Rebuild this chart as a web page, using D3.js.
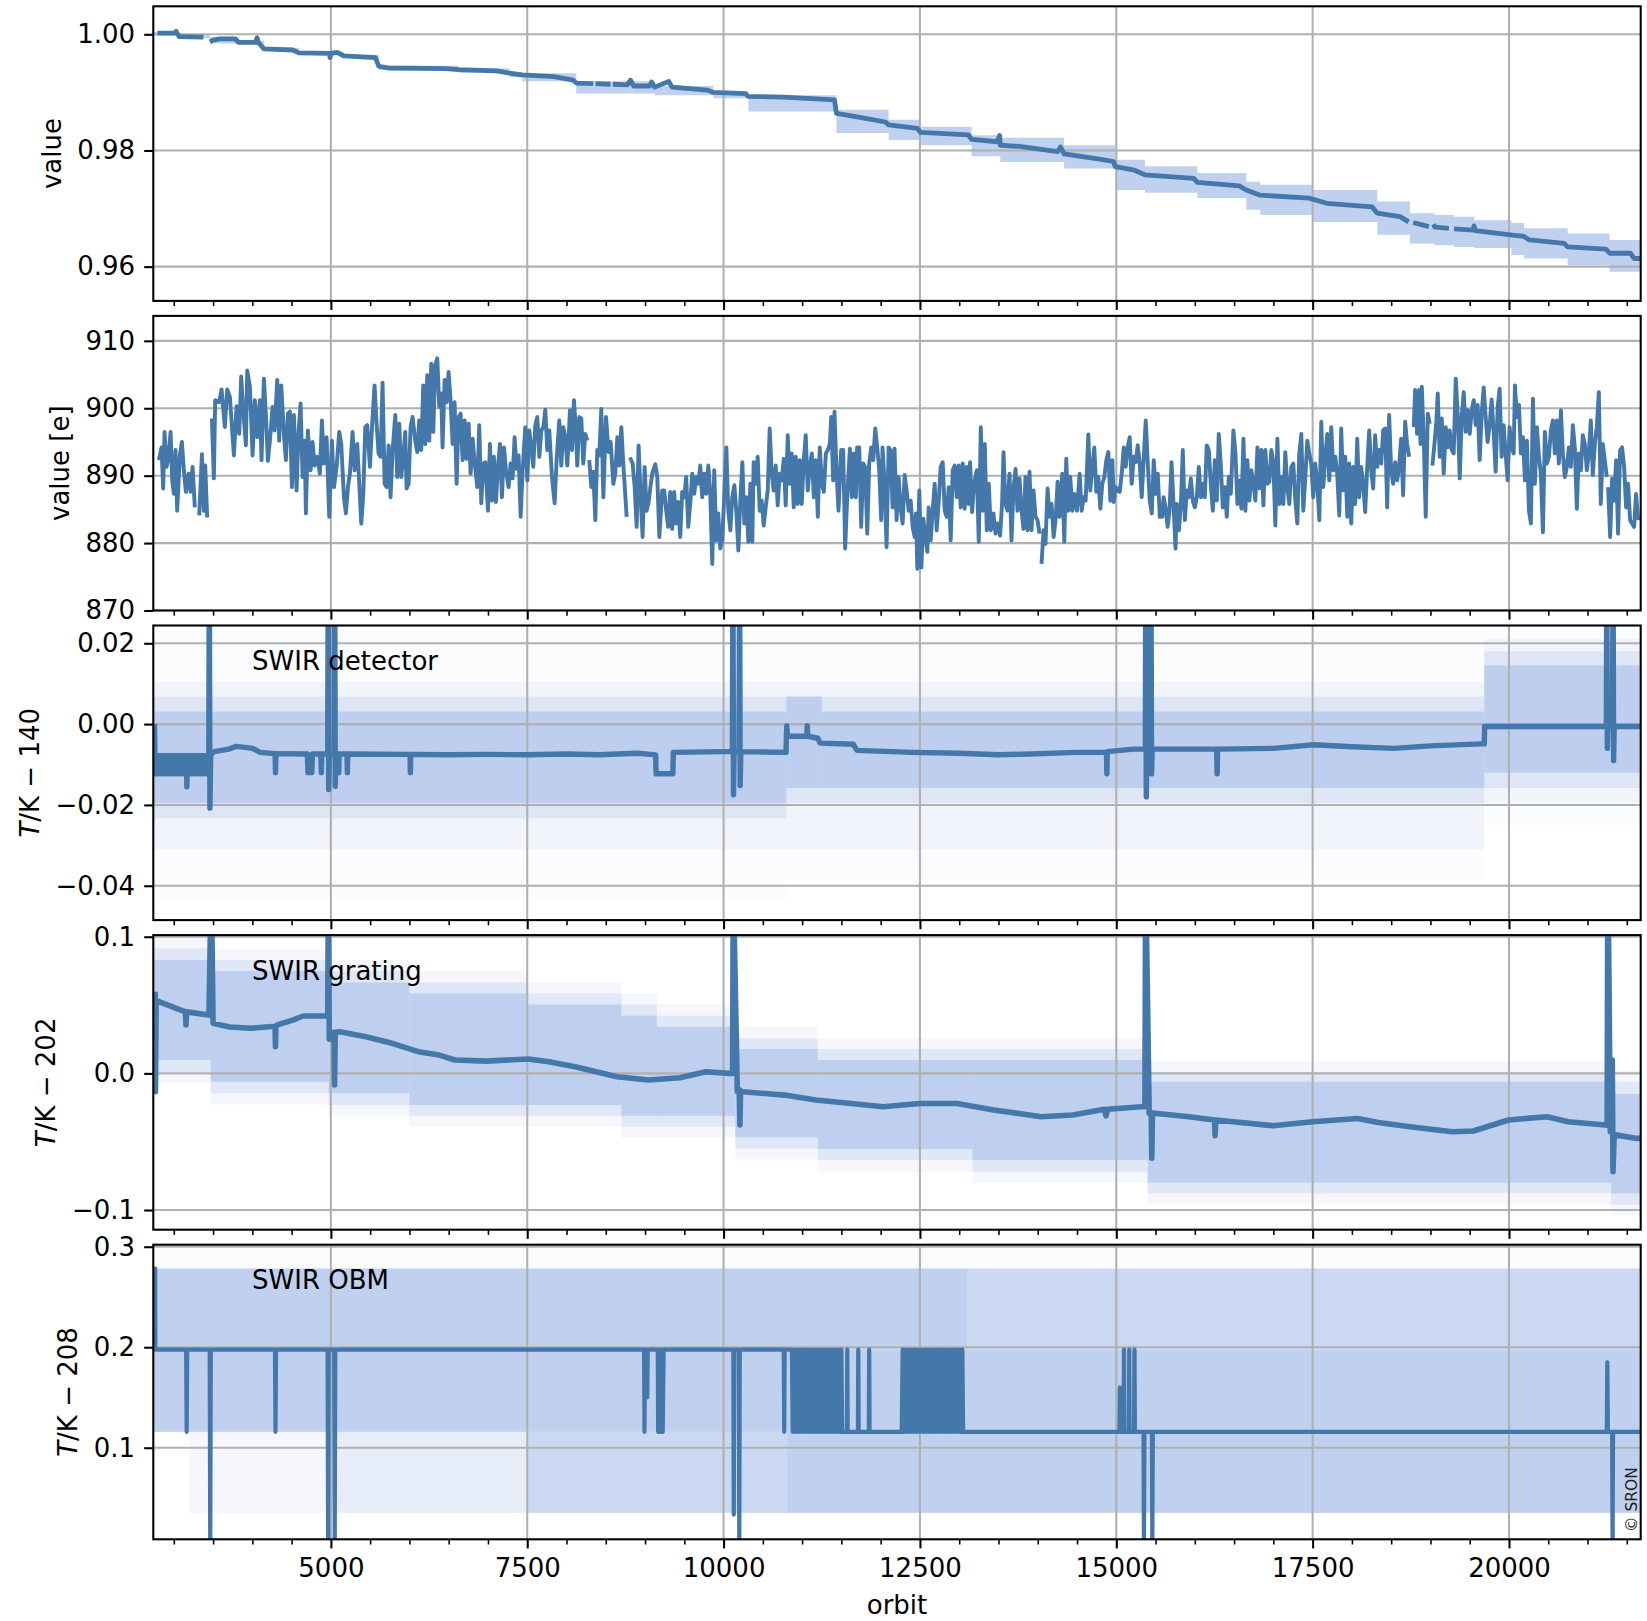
<!DOCTYPE html>
<html>
<head>
<meta charset="utf-8">
<script src="https://cdn.jsdelivr.net/npm/d3@7"></script>
<style>
  body { margin: 0; background: #fff; }
  svg { display: block; }
  text { font-family: 'DejaVu Sans', sans-serif; }
</style>
</head>
<body>
<svg id="chart"></svg>
<script>
// ---- shared x axis ----
const orbitDomain = [2739, 21677]
const xTicks = [5000, 7500, 10000, 12500, 15000, 17500, 20000]
const xMinorTicks = [3000, 3500, 4000, 4500, 5000, 5500, 6000, 6500, 7000, 7500, 8000, 8500, 9000, 9500,
  10000, 10500, 11000, 11500, 12000, 12500, 13000, 13500, 14000, 14500, 15000, 15500, 16000, 16500,
  17000, 17500, 18000, 18500, 19000, 19500, 20000, 20500, 21000, 21500]

// ---- panel 1: degradation value ----
const degTicks = [0.96, 0.98, 1.00]
const degSeries = [[2792, 1.0002], [3011, 1.0002], [3030, 1.0005], [3045, 1.0001], [3068, 0.9996], [3377, 0.9995],
  [3420, null], [3460, 0.9987], [3500, 0.9990], [3580, 0.9992], [3782, 0.9992], [3823, 0.9986], [4040, 0.9986],
  [4060, 0.9994], [4075, 0.9986], [4148, 0.9975], [4513, 0.9973], [4594, 0.9968], [4980, 0.9967], [4990, 0.9960],
  [5000, 0.9967], [5081, 0.9969], [5162, 0.9963], [5568, 0.9960], [5609, 0.9945], [5731, 0.9942], [6462, 0.9941],
  [6623, 0.9939], [7110, 0.9937], [7273, 0.9933], [7435, 0.9930], [7841, 0.9927], [8084, 0.9921], [8125, 0.9916],
  [8340, 0.9915], [8355, null], [8370, 0.9915], [8560, 0.9914], [8575, null], [8590, 0.9914], [8774, 0.9913],
  [8815, 0.9921], [8856, 0.9911], [9059, 0.9911], [9083, 0.9918], [9124, 0.9909], [9302, 0.9919], [9343, 0.9909],
  [9789, 0.9904], [9870, 0.9900], [10276, 0.9898], [10317, 0.9893], [10763, 0.9892], [11412, 0.9887],
  [11437, 0.9864], [11737, 0.9857], [12062, 0.9849], [12102, 0.9844], [12468, 0.9838], [12508, 0.9831],
  [13117, 0.9827], [13158, 0.9819], [13483, 0.9815], [13515, 0.9826], [13523, 0.9809], [13767, 0.9807],
  [14254, 0.9798], [14290, 0.9806], [14335, 0.9794], [14786, 0.9785], [14964, 0.9781], [14987, 0.9772],
  [15231, 0.9766], [15365, 0.9758], [15987, 0.9752], [16032, 0.9745], [16566, 0.9739], [16655, 0.9732],
  [16833, 0.9723], [17455, 0.9718], [17678, 0.9709], [18256, 0.9703], [18323, 0.9692], [18612, 0.9686],
  [18723, 0.9677], [18750, null], [18780, 0.9676], [18980, 0.9669], [19000, null], [19040, 0.9673], [19057, 0.9668],
  [19235, 0.9666], [19270, null], [19300, 0.9665], [19546, 0.9663], [19555, 0.9670], [19570, 0.9662],
  [19991, 0.9655], [20191, 0.9652], [20258, 0.9646], [20702, 0.9640], [20747, 0.9634], [21236, 0.9630],
  [21281, 0.9623], [21548, 0.9623], [21592, 0.9614], [21677, 0.9614]]
// [orbit where the band starts, lower, upper]
const degBand = [[2739, 0.9998, 1.0004], [3068, 0.9993, 0.9999], [3460, 0.9984, 0.9995], [3823, 0.9983, 0.9989],
  [4148, 0.9972, 0.9977], [4594, 0.9965, 0.9970], [5162, 0.9959, 0.9965], [5609, 0.9939, 0.9946],
  [6623, 0.9935, 0.9941], [7273, 0.9926, 0.9935], [7435, 0.9919, 0.9933], [8125, 0.9898, 0.9919],
  [9124, 0.9895, 0.9911], [9870, 0.9890, 0.9902], [10317, 0.9867, 0.9895], [11437, 0.9830, 0.9870],
  [12102, 0.9818, 0.9853], [12508, 0.9809, 0.9841], [13158, 0.9790, 0.9826], [13523, 0.9780, 0.9822],
  [14335, 0.9769, 0.9809], [14987, 0.9732, 0.9784], [15365, 0.9727, 0.9773], [16032, 0.9718, 0.9761],
  [16655, 0.9698, 0.9746], [16833, 0.9689, 0.9741], [17500, 0.9677, 0.9732], [18323, 0.9655, 0.9712],
  [18740, 0.9640, 0.9692], [19050, 0.9637, 0.9689], [19300, 0.9634, 0.9686], [19560, 0.9632, 0.9680],
  [20030, 0.9620, 0.9675], [20191, 0.9614, 0.9666], [20747, 0.9603, 0.9657], [21281, 0.9591, 0.9646],
  [21677, 0.9591, 0.9646]]

// ---- panel 2: dark signal [e] ----
const darkTicks = [870, 880, 890, 900, 910]
const darkSeries = [[2810, 892.3], [2844, 894.2], [2865, 888.1], [2882, 896.5], [2908, 891.3], [2933, 892.8], [2959, 896.5],
  [2980, 889.3], [3001, 887.3], [3022, 893.8], [3043, 884.8], [3077, 893.0], [3103, 895.0], [3128, 890.8], [3154, 887.6],
  [3188, 890.3], [3213, 887.6], [3239, 891.3], [3268, 885.3], [3295, null], [3324, 884.1], [3358, 893.2], [3383, 884.8],
  [3400, 891.5], [3425, 883.8], [3455, null], [3485, 898.5], [3510, 889.6], [3527, 901.2], [3578, 900.9], [3608, 902.8],
  [3650, 897.2], [3680, 902.8], [3714, 901.7], [3765, 893.0], [3799, 900.3], [3833, 896.2], [3858, 904.7], [3884, 899.7],
  [3918, 894.5], [3935, 905.6], [3969, 903.2], [4003, 893.0], [4032, 901.2], [4062, 895.7], [4096, 901.2], [4117, 892.3],
  [4147, 904.4], [4172, 899.2], [4198, 892.2], [4224, 895.2], [4257, 900.2], [4283, 896.7], [4317, 904.2], [4342, 895.2],
  [4368, 903.4], [4402, 896.2], [4427, 892.3], [4453, 899.2], [4478, 899.5], [4504, 888.3], [4529, 899.0], [4563, 887.8],
  [4589, 896.5], [4614, 900.7], [4640, 889.8], [4665, 895.2], [4682, 884.4], [4707, 896.7], [4741, 890.8], [4767, 895.0],
  [4792, 891.5], [4826, 892.8], [4860, 890.3], [4886, 898.2], [4911, 891.8], [4945, 895.7], [4979, 883.9], [5013, 895.2],
  [5039, 888.3], [5073, 891.3], [5106, 896.5], [5132, 894.7], [5166, 886.8], [5191, 884.4], [5217, 888.3], [5242, 890.3],
  [5276, 896.5], [5302, 890.8], [5336, 894.7], [5361, 888.8], [5387, 882.9], [5412, 887.1], [5438, 897.2], [5463, 897.5],
  [5497, 891.3], [5531, 898.7], [5556, 903.4], [5582, 897.7], [5607, 893.3], [5633, 892.8], [5658, 903.8], [5684, 888.8],
  [5709, 888.3], [5735, 894.5], [5760, 886.8], [5786, 893.8], [5820, 899.0], [5845, 889.8], [5871, 897.7], [5896, 889.8],
  [5922, 892.8], [5947, 896.5], [5964, 888.1], [5990, 888.8], [6015, 897.2], [6040, 898.7], [6074, 895.2], [6100, 893.5],
  [6125, 898.2], [6151, 893.8], [6176, 903.4], [6202, 894.7], [6227, 904.9], [6253, 895.2], [6278, 906.6], [6304, 896.5],
  [6329, 906.4], [6355, 907.4], [6380, 900.2], [6405, 902.2], [6422, 894.2], [6448, 904.2], [6473, 900.9], [6499, 905.4],
  [6524, 901.2], [6550, 894.7], [6575, 900.9], [6601, 888.8], [6626, 898.7], [6652, 899.2], [6677, 892.3], [6703, 898.2],
  [6728, 892.5], [6754, 897.7], [6779, 890.3], [6805, 895.5], [6830, 892.0], [6864, 888.3], [6889, 897.5], [6915, 885.9],
  [6940, 891.8], [6966, 892.0], [7000, 884.8], [7025, 894.7], [7051, 886.3], [7076, 892.8], [7102, 886.1], [7127, 891.3],
  [7153, 894.7], [7178, 886.8], [7204, 894.2], [7229, 890.8], [7263, 888.3], [7288, 891.8], [7314, 889.6], [7339, 895.7],
  [7365, 891.0], [7390, 893.0], [7416, 883.9], [7441, 890.8], [7475, 897.2], [7501, 889.3], [7526, 896.7], [7552, 894.2],
  [7577, 891.3], [7603, 897.5], [7628, 898.7], [7654, 892.8], [7679, 896.7], [7705, 897.2], [7730, 899.8], [7755, 893.8],
  [7781, 896.7], [7815, 889.8], [7849, 885.9], [7874, 892.3], [7908, 898.2], [7934, 891.5], [7959, 897.2], [7985, 895.7],
  [8010, 891.5], [8044, 899.7], [8070, 893.8], [8095, 901.2], [8120, 896.7], [8137, 891.5], [8163, 898.7], [8188, 898.5],
  [8214, 891.8], [8239, 896.2], [8265, 895.2], [8278, null], [8290, 892.3], [8316, 888.3], [8341, 890.6], [8367, 883.4],
  [8392, 893.8], [8418, 893.0], [8443, 899.9], [8469, 886.8], [8503, 898.7], [8536, 893.5], [8562, 895.0], [8596, 888.8],
  [8621, 890.3], [8647, 895.7], [8672, 891.5], [8698, 897.2], [8723, 891.8], [8766, 883.9], [8788, null], [8808, 892.7],
  [8842, 891.8], [8868, 888.3], [8893, 882.4], [8918, 894.5], [8944, 886.8], [8969, 880.9], [8995, 891.3], [9020, 884.8],
  [9046, 886.1], [9071, 888.6], [9097, 890.6], [9131, 891.7], [9156, 889.8], [9182, 880.9],
  [9218, 887.8], [9244, 887.8], [9269, 884.8], [9295, 882.4], [9320, 887.6], [9346, 882.1], [9371, 887.6], [9397, 882.9],
  [9422, 886.1], [9448, 880.9], [9473, 887.6], [9499, 886.8], [9524, 889.8], [9550, 882.4], [9575, 885.8], [9601, 890.3],
  [9626, 887.3], [9652, 889.8], [9677, 888.8], [9703, 891.5], [9728, 886.8], [9754, 890.3], [9779, 887.3], [9805, 891.5],
  [9830, 887.6], [9856, 876.9], [9881, 890.8], [9907, 880.4], [9932, 884.4], [9958, 879.2], [9983, 880.4], [10009, 887.1],
  [10035, 894.2], [10060, 884.8], [10086, 881.9], [10111, 886.8], [10137, 888.6], [10162, 884.8], [10188, 878.9],
  [10213, 886.3], [10239, 892.0], [10264, 882.9], [10290, 886.8], [10315, 880.2], [10341, 888.8], [10366, 880.2],
  [10383, 892.0], [10409, 888.8], [10434, 892.8], [10460, 884.8], [10485, 886.3], [10511, 882.6], [10536, 885.3],
  [10562, 887.8], [10587, 897.0], [10613, 890.3], [10638, 887.8], [10664, 891.5], [10689, 885.6], [10715, 890.3],
  [10740, 889.3], [10766, 892.5], [10791, 885.6], [10817, 896.0], [10842, 888.8], [10868, 893.3], [10893, 885.3],
  [10919, 892.8], [10944, 885.8], [10970, 892.3], [10995, 885.8], [11021, 892.3], [11046, 896.0], [11072, 887.8],
  [11097, 891.3], [11123, 893.3], [11149, 886.8], [11174, 892.3], [11200, 883.9], [11225, 894.2], [11251, 888.8],
  [11276, 887.6], [11302, 893.3], [11327, 893.8], [11353, 894.7], [11370, 898.7], [11395, 889.3], [11412, 899.5],
  [11438, 890.8], [11463, 884.8], [11497, 893.8], [11523, 893.8], [11548, 879.2], [11574, 886.8], [11608, 894.0],
  [11633, 886.8], [11659, 893.3], [11684, 886.8], [11701, 894.2], [11727, 894.2], [11752, 882.4], [11778, 891.8],
  [11803, 891.3], [11829, 881.4], [11854, 891.8], [11880, 894.2], [11905, 892.3], [11931, 897.0], [11956, 894.2],
  [11982, 890.8], [12007, 883.4], [12024, 894.2], [12050, 888.8], [12075, 879.4], [12101, 894.2], [12126, 893.8],
  [12152, 885.3], [12177, 894.0], [12203, 883.4], [12229, 889.8], [12254, 885.3], [12280, 882.9], [12305, 890.1],
  [12331, 887.8], [12356, 884.8], [12382, 886.3], [12407, 882.4], [12433, 880.9], [12450, 884.4], [12467, 876.2],
  [12492, 887.8], [12518, 876.4], [12543, 883.6], [12569, 880.9], [12594, 878.7], [12611, 885.3], [12637, 880.4],
  [12662, 884.8], [12688, 888.8], [12713, 881.9], [12739, 886.1], [12764, 891.3], [12790, 892.0], [12815, 884.8],
  [12841, 883.9], [12866, 888.3], [12892, 880.4], [12917, 890.8], [12943, 891.5], [12968, 886.8], [12994, 891.5],
  [13019, 885.3], [13045, 891.8], [13070, 885.1], [13096, 891.3], [13121, 885.8], [13138, 892.0], [13164, 884.6],
  [13189, 888.8], [13224, 890.8], [13249, 880.2], [13275, 897.2], [13300, 884.8], [13326, 894.7], [13351, 881.9],
  [13377, 888.8], [13402, 881.9], [13436, 884.4], [13462, 881.4], [13487, 882.9], [13521, 881.1], [13547, 886.1],
  [13564, 893.5], [13589, 885.8], [13615, 884.8], [13640, 890.3], [13666, 880.4], [13691, 888.1], [13717, 891.0],
  [13742, 884.8], [13768, 889.6], [13793, 884.8], [13819, 882.1], [13844, 889.8], [13870, 881.9], [13895, 890.6],
  [13921, 881.9], [13946, 887.8], [13972, 883.9], [13997, 883.4], [14023, 881.4], [14035, null], [14048, 876.9],
  [14074, 881.9], [14099, 879.9], [14125, 888.1], [14150, 883.9], [14176, 885.8], [14202, 880.9], [14227, 883.4],
  [14253, 889.1], [14278, 883.9], [14312, 890.3], [14338, 880.2], [14363, 892.5], [14389, 884.8], [14414, 889.8],
  [14440, 884.8], [14465, 887.3], [14499, 884.8], [14533, 890.3], [14559, 884.8], [14584, 886.8], [14610, 886.3],
  [14644, 896.1], [14669, 887.8], [14695, 891.3], [14720, 894.2], [14746, 887.6], [14771, 889.8], [14797, 885.1],
  [14822, 888.8], [14848, 889.8], [14873, 892.3], [14899, 893.5], [14924, 886.3], [14950, 892.3], [14967, 886.1],
  [14993, 888.3], [15018, 887.8], [15044, 887.6], [15069, 890.3], [15095, 894.2], [15120, 891.3], [15145, 894.2],
  [15171, 895.7], [15196, 888.8], [15222, 892.8], [15247, 892.0], [15273, 894.5], [15299, 891.8], [15324, 886.8],
  [15350, 892.8], [15375, 898.2], [15401, 891.8], [15426, 886.3], [15452, 884.4], [15477, 892.3], [15503, 887.3],
  [15528, 890.3], [15554, 883.9],
  [15585, 883.9], [15602, 886.8], [15627, 885.3], [15653, 882.4], [15678, 884.8], [15703, 892.0], [15729, 885.8],
  [15754, 879.2], [15771, 885.8], [15797, 881.9], [15822, 885.6], [15847, 893.8], [15873, 883.4], [15898, 887.8],
  [15924, 886.8], [15949, 889.6], [15975, 886.3], [16000, 885.3], [16025, 886.8], [16051, 891.3], [16076, 886.8],
  [16102, 888.8], [16127, 886.8], [16152, 894.5], [16178, 893.8], [16203, 888.8], [16229, 884.8], [16254, 892.3],
  [16280, 886.3], [16305, 896.2], [16330, 891.8], [16356, 885.3], [16381, 888.3], [16407, 883.9], [16432, 889.8],
  [16458, 887.3], [16491, 896.7], [16517, 893.5], [16542, 885.8], [16568, 889.3], [16593, 885.1], [16619, 895.5],
  [16644, 884.8], [16669, 892.3], [16695, 886.3], [16720, 890.8], [16746, 888.8], [16771, 886.3], [16797, 894.2],
  [16822, 888.1], [16847, 893.8], [16873, 885.6], [16898, 893.8], [16924, 888.8], [16949, 889.1], [16974, 893.8],
  [17000, 892.0], [17025, 882.6], [17051, 895.5], [17076, 885.8], [17102, 889.8], [17127, 885.8], [17152, 893.5],
  [17178, 888.3], [17203, 885.8], [17229, 891.3], [17254, 891.8], [17280, 886.3], [17305, 882.9], [17330, 893.3],
  [17356, 896.2], [17381, 884.8], [17407, 889.8], [17432, 895.2], [17457, 893.3], [17483, 891.8], [17508, 886.8],
  [17534, 891.8], [17559, 888.8], [17585, 883.4], [17610, 898.0], [17635, 888.3], [17661, 892.8], [17686, 896.2],
  [17712, 889.3], [17737, 897.2], [17763, 890.8], [17788, 892.8], [17813, 890.3], [17839, 884.1], [17864, 897.0],
  [17890, 887.8], [17915, 892.8], [17941, 883.9], [17966, 891.8], [17991, 882.9], [18017, 891.3], [18042, 885.8],
  [18068, 895.5], [18093, 886.8], [18118, 891.3], [18144, 888.8], [18169, 884.6], [18195, 891.3], [18220, 896.7],
  [18246, 890.8], [18271, 888.1], [18296, 896.0], [18322, 891.3], [18347, 893.8], [18373, 891.8], [18398, 896.7],
  [18424, 897.0], [18449, 885.3], [18474, 899.0], [18500, 890.8], [18525, 888.8], [18551, 892.0], [18576, 889.3],
  [18601, 891.3], [18627, 895.5], [18652, 887.1], [18678, 898.0], [18703, 894.7], [18729, 892.8], [18745, null],
  [18763, 897.5], [18788, 897.5], [18805, 902.7], [18830, 896.2], [18856, 902.7], [18873, 894.7], [18890, 903.2],
  [18915, 895.2], [18940, 883.9], [18966, 899.2], [18991, 897.7], [19008, null], [19025, 891.5], [19051, 894.7],
  [19076, 898.2], [19093, 902.2], [19118, 892.8], [19144, 898.5], [19169, 890.3], [19195, 897.2], [19220, 894.2],
  [19246, 896.7], [19271, 893.8], [19296, 893.3], [19322, 904.4], [19347, 899.2], [19373, 889.6], [19398, 898.7],
  [19424, 902.4], [19449, 896.5], [19474, 899.7], [19500, 896.2], [19525, 899.7], [19551, 901.2], [19576, 897.5],
  [19601, 900.5], [19627, 892.3], [19652, 899.2], [19678, 903.1], [19703, 898.7], [19728, 895.0], [19754, 897.5],
  [19779, 901.3], [19805, 896.5], [19830, 890.6], [19856, 900.2], [19881, 902.9], [19906, 892.8], [19932, 897.5],
  [19957, 893.3], [19983, 889.3], [20008, 897.2], [20033, 894.2], [20059, 893.3], [20076, 903.4], [20101, 898.7],
  [20127, 900.5], [20152, 893.3], [20178, 895.7], [20203, 889.3], [20228, 895.2], [20254, 884.8], [20279, 882.9],
  [20305, 901.4], [20330, 888.8], [20356, 897.2], [20381, 892.8], [20406, 890.3], [20432, 881.6], [20457, 896.5],
  [20483, 891.8], [20508, 892.8], [20533, 896.7], [20559, 898.2], [20584, 893.3], [20610, 898.2], [20635, 891.8],
  [20661, 899.7], [20686, 893.3], [20711, 889.8], [20737, 891.3], [20762, 894.2], [20788, 891.3], [20813, 897.5],
  [20838, 894.2], [20864, 885.1], [20889, 893.3], [20915, 890.8], [20940, 896.0], [20966, 894.7], [20991, 890.8],
  [21016, 893.3], [21042, 898.2], [21067, 890.1], [21093, 894.7], [21118, 897.2], [21144, 902.4], [21169, 885.8],
  [21195, 894.7], [21220, 892.3], [21245, 889.8], [21254, null], [21262, 888.3], [21288, 880.9], [21313, 889.6],
  [21339, 886.3], [21364, 892.3], [21389, 881.4], [21415, 893.8], [21440, 894.2], [21466, 891.3], [21491, 885.3],
  [21516, 888.8], [21542, 883.4], [21567, 882.9], [21593, 882.4], [21618, 887.3], [21644, 883.4]]

// ---- panels 3-5: temperatures, band segments [from, to, lower, upper, level] ----
const detTicks = [-0.04, -0.02, 0.00, 0.02]
const detUp = -0.0078
const detDown = -0.0123
const detSeries = [[2755, 0.0], [2762, detDown], [2774, detUp], [2786, detDown], [2798, detUp], [2810, detDown],
  [2822, detUp], [2834, detDown], [2846, detUp], [2858, detDown], [2870, detUp], [2882, detDown], [2894, detUp],
  [2906, detDown], [2918, detUp], [2930, detDown], [2942, detUp], [2954, detDown], [2966, detUp], [2978, detDown],
  [2990, detUp], [3002, detDown], [3014, detUp], [3026, detDown], [3038, detUp], [3050, detDown], [3062, detUp],
  [3074, detDown], [3086, detUp], [3098, detDown], [3110, detUp], [3122, detDown], [3134, detUp], [3146, detDown],
  [3158, detUp], [3164, detDown], [3166, -0.0155], [3170, detDown], [3182, detUp], [3194, detDown], [3206, detUp],
  [3218, detDown], [3230, detUp], [3242, detDown], [3254, detUp], [3266, detDown], [3278, detUp], [3290, detDown],
  [3302, detUp], [3314, detDown], [3326, detUp], [3338, detDown], [3350, detUp], [3362, detDown], [3374, detUp],
  [3386, detDown], [3398, detUp], [3410, detDown], [3422, detUp], [3434, detDown], [3446, detUp],
  [3452, 0.04], [3460, -0.0208], [3470, -0.0075],
  [3516, -0.0068], [3700, -0.0062], [3800, -0.0055], [4003, -0.0060], [4100, -0.0070], [4290, -0.0073], [4295, -0.0120],
  [4300, -0.0073], [4700, -0.0074], [4708, -0.0120], [4757, -0.0120], [4765, -0.0074], [4872, -0.0074], [4878, -0.0120],
  [4884, -0.0074], [4960, -0.0074], [4966, 0.04], [4972, -0.0162], [4980, -0.0074], [5043, -0.0074], [5049, 0.04],
  [5055, -0.0154], [5065, -0.0074], [5095, -0.0074], [5100, -0.0120], [5105, -0.0074], [5205, -0.0074], [5210, -0.0120],
  [5215, -0.0074], [6008, -0.0075], [6012, -0.0120], [6018, -0.0075], [6500, -0.0076], [7000, -0.0075], [7500, -0.0076],
  [8000, -0.0074], [8418, -0.0076], [8900, -0.0072], [9135, -0.0076], [9141, -0.0123], [9354, -0.0123], [9360, -0.0070],
  [10000, -0.0068], [10112, -0.0068], [10119, 0.04], [10126, -0.0175], [10134, -0.0068], [10196, -0.0068], [10204, 0.04],
  [10211, -0.0152], [10220, -0.0068], [10795, -0.0070], [10800, -0.0030], [10805, -0.0004], [10812, -0.0030],
  [11060, -0.0030], [11065, -0.0004], [11072, -0.0030], [11200, -0.0035], [11230, -0.0047], [11650, -0.0050],
  [11700, -0.0065], [12400, -0.0070], [13000, -0.0072], [13500, -0.0076], [13900, -0.0074], [14500, -0.0070],
  [14875, -0.0070], [14880, -0.0123], [14886, -0.0068], [15220, -0.0062], [15370, -0.0062], [15375, 0.04],
  [15382, -0.0180], [15390, -0.0062], [15435, -0.0062], [15442, 0.04], [15449, -0.0123], [15457, -0.0062],
  [16000, -0.0062], [16278, -0.0062], [16284, -0.0123], [16290, -0.0062], [17000, -0.0060], [17517, -0.0051],
  [18000, -0.0056], [18537, -0.0060], [19000, -0.0054], [19642, -0.0049], [19685, -0.0049], [19690, -0.0006],
  [21240, -0.0006], [21245, 0.04], [21252, -0.0060], [21260, -0.0006], [21318, -0.0006], [21325, 0.04],
  [21332, -0.0090], [21340, -0.0006], [21677, -0.0006]]
const detBands = [
  [2739, 10800, -0.043, 0.0244, 3], [10800, 19685, -0.039, 0.0244, 3], [19685, 21677, -0.025, 0.0244, 3],
  [2739, 10800, -0.031, 0.0105, 2], [10800, 19685, -0.031, 0.0105, 2], [19685, 21677, -0.0195, 0.021, 2],
  [2739, 10800, -0.0233, 0.0068, 1], [10800, 19685, -0.0195, 0.0068, 1], [19685, 21677, -0.0158, 0.018, 1],
  [2739, 10800, -0.0195, 0.0031, 0], [10800, 11250, -0.0158, 0.0068, 0], [11250, 19685, -0.0158, 0.0031, 0],
  [19685, 21677, -0.0120, 0.0145, 0]]

const gratTicks = [-0.1, 0.0, 0.1]
const gratSeries = [[2762, 0.0598], [2766, -0.0134], [2775, 0.053], [2784, 0.053], [3149, 0.045], [3155, 0.0354],
  [3162, 0.045], [3448, 0.0427], [3470, 0.12], [3482, 0.12], [3500, 0.0366], [3715, 0.034], [3981, 0.033],
  [4290, 0.0345], [4294, 0.0195], [4300, 0.0345], [4314, 0.0354], [4514, 0.039], [4647, 0.042], [4913, 0.042],
  [4960, 0.042], [4967, 0.12], [4980, 0.025], [4993, 0.0256], [5040, 0.030], [5047, -0.0085], [5055, 0.030],
  [5113, 0.0305], [5446, 0.0268], [5779, 0.022], [6112, 0.0159], [6379, 0.0134], [6578, 0.0098], [6978, 0.009],
  [7511, 0.0105], [7777, 0.0085], [8110, 0.0049], [8643, -0.0024], [9043, -0.0049], [9442, -0.0032], [9775, 0.0012],
  [10075, 0.0], [10115, 0.0], [10122, 0.12], [10130, 0.12], [10175, -0.0134], [10200, -0.012], [10208, -0.0378],
  [10216, -0.013], [10241, -0.0134], [10774, -0.0159], [11174, -0.0195], [11628, -0.022], [12030, -0.0244],
  [12500, -0.022], [12970, -0.022], [13439, -0.0268], [14043, -0.0317], [14446, -0.0305], [14849, -0.0263],
  [14869, -0.031], [14890, -0.0263], [15318, -0.0244], [15365, -0.0244], [15372, 0.12], [15380, 0.12],
  [15419, -0.0293], [15445, -0.029], [15452, -0.062], [15460, -0.029], [15922, -0.0317], [16250, -0.0341],
  [16258, -0.0456], [16266, -0.0341], [16996, -0.0383], [17500, -0.0354], [18069, -0.033], [18338, -0.0359],
  [18740, -0.039], [19277, -0.0427], [19546, -0.0422], [19995, -0.0341], [20485, -0.0317], [20753, -0.0354],
  [21223, -0.0378], [21250, -0.038], [21257, 0.12], [21265, 0.12], [21290, -0.0427], [21315, 0.0098],
  [21324, -0.072], [21340, -0.045], [21357, -0.045], [21626, -0.0476], [21677, -0.0476]]
const gratBands = [
  [2739, 3470, -0.007, 0.100, 2], [3470, 4970, -0.023, 0.091, 2], [4970, 6000, -0.031, 0.083, 2],
  [6000, 7500, -0.039, 0.075, 2], [7500, 8700, -0.039, 0.0666, 2], [8700, 9150, -0.047, 0.0585, 2],
  [9150, 10150, -0.047, 0.0505, 2], [10150, 11200, -0.063, 0.034, 2], [11200, 13170, -0.072, 0.026, 2],
  [13170, 15400, -0.080, 0.026, 2], [15400, 21300, -0.096, 0.009, 2], [21300, 21677, -0.104, 0.002, 2],
  [2739, 3470, 0.001, 0.0915, 1], [3470, 4970, -0.0146, 0.083, 1], [4970, 6000, -0.0232, 0.075, 1],
  [6000, 7500, -0.031, 0.0666, 1], [7500, 8700, -0.031, 0.0585, 1], [8700, 9150, -0.039, 0.0505, 1],
  [9150, 10150, -0.039, 0.0422, 1], [10150, 11200, -0.055, 0.0256, 1], [11200, 13170, -0.0634, 0.0178, 1],
  [13170, 15400, -0.072, 0.0178, 1], [15400, 21300, -0.0878, 0.001, 1], [21300, 21677, -0.096, -0.0061, 1],
  [2739, 3470, 0.0098, 0.083, 0], [3470, 4970, -0.0061, 0.075, 0], [4970, 6000, -0.0146, 0.0666, 0],
  [6000, 7500, -0.0232, 0.0585, 0], [7500, 8700, -0.0232, 0.0505, 0], [8700, 9150, -0.031, 0.0422, 0],
  [9150, 10150, -0.031, 0.0341, 0], [10150, 11200, -0.0468, 0.0178, 0], [11200, 13170, -0.0554, 0.0098, 0],
  [13170, 15400, -0.0634, 0.0098, 0], [15400, 21300, -0.080, -0.0061, 0], [21300, 21677, -0.0878, -0.0151, 0]]

const obmTicks = [0.1, 0.2, 0.3]
const obmHigh = 0.1977
const obmLow = 0.1158
const obmSeries = [[2762, 0.280], [2766, obmHigh], [3157, obmHigh], [3164, obmLow], [3171, obmHigh], [3457, obmHigh],
  [3464, 0.0], [3471, obmHigh], [4288, obmHigh], [4295, obmLow], [4302, obmHigh], [4958, obmHigh], [4965, 0.0],
  [4972, obmHigh], [5042, obmHigh], [5049, 0.0], [5056, obmHigh], [8988, obmHigh], [8993, obmLow], [8999, obmHigh],
  [9022, obmHigh], [9028, 0.150], [9034, obmHigh], [9162, obmHigh], [9167, obmLow], [9180, obmHigh], [9195, obmLow],
  [9210, obmHigh], [9225, obmLow], [9237, obmHigh], [10124, obmHigh], [10130, 0.0335], [10136, obmHigh],
  [10194, obmHigh], [10200, 0.0], [10206, obmHigh], [10766, obmHigh], [10772, obmLow], [10778, obmHigh],
  [10870, obmHigh], [10880, obmLow], [10900, obmHigh], [10920, obmLow], [10940, obmHigh], [10960, obmLow],
  [10980, obmHigh], [11000, obmLow], [11020, obmHigh], [11040, obmLow], [11060, obmHigh], [11080, obmLow],
  [11100, obmHigh], [11120, obmLow], [11140, obmHigh], [11160, obmLow], [11180, obmHigh], [11200, obmLow],
  [11220, obmHigh], [11240, obmLow], [11260, obmHigh], [11280, obmLow], [11300, obmHigh], [11320, obmLow],
  [11340, obmHigh], [11360, obmLow], [11380, obmHigh], [11400, obmLow], [11420, obmHigh], [11440, obmLow],
  [11460, obmHigh], [11480, obmLow], [11500, obmHigh], [11510, obmLow], [11570, obmLow], [11575, obmHigh],
  [11580, obmLow], [11710, obmLow], [11715, obmHigh], [11720, obmLow], [11849, obmLow], [11854, obmHigh],
  [11859, obmLow], [12268, obmLow], [12280, obmHigh], [12300, obmLow], [12320, obmHigh], [12340, obmLow],
  [12360, obmHigh], [12380, obmLow], [12400, obmHigh], [12420, obmLow], [12440, obmHigh], [12460, obmLow],
  [12480, obmHigh], [12500, obmLow], [12520, obmHigh], [12540, obmLow], [12560, obmHigh], [12580, obmLow],
  [12600, obmHigh], [12620, obmLow], [12640, obmHigh], [12660, obmLow], [12680, obmHigh], [12700, obmLow],
  [12720, obmHigh], [12740, obmLow], [12760, obmHigh], [12780, obmLow], [12800, obmHigh], [12820, obmLow],
  [12840, obmHigh], [12860, obmLow], [12880, obmHigh], [12900, obmLow], [12920, obmHigh], [12940, obmLow],
  [12960, obmHigh], [12980, obmLow], [13000, obmHigh], [13020, obmLow], [13040, obmHigh], [13050, obmLow],
  [15040, obmLow], [15045, 0.160], [15050, obmLow], [15093, obmLow], [15098, obmHigh], [15103, obmLow],
  [15160, obmLow], [15165, obmHigh], [15170, obmLow], [15227, obmLow], [15232, obmHigh], [15237, obmLow],
  [15347, obmLow], [15352, 0.0], [15358, obmLow], [15454, obmLow], [15459, 0.0], [15465, obmLow],
  [21245, obmLow], [21252, 0.185], [21259, obmLow], [21313, obmLow], [21319, 0.0], [21325, obmLow], [21677, obmLow]]
const obmBands = [
  [2739, 21677, 0.278, 0.302, 3], [3200, 5000, 0.0352, 0.1158, 2], [5000, 7500, 0.0352, 0.1158, 1],
  [7500, 10800, 0.0352, 0.1158, 4], [13100, 21677, 0.1977, 0.2783, 4],
  [2739, 21677, 0.1158, 0.1977, 0], [2739, 13100, 0.1977, 0.2783, 0], [10800, 21677, 0.0352, 0.1158, 0]]

// ---- layout ----
const width = 1647
const height = 1621
const plotLeft = 153.3
const plotRight = 1640.7
const firstTop = 6.3
const panelStep = 309.6
const panelHeight = 294.6
const fontSize = 26
const lineColor = '#4477aa'
const bandColor = '#bbccee'
// opacity per band level: 0 dense, 1 medium, 2 light, 3 faint, 4 dense stripes
const levelOpacity = [0.92, 0.35, 0.15, 0.06, 0.76]

const panels = [
  { domain: [0.9541, 1.00482], ticks: degTicks, fmt: '.2f', label: ['', 'value'], series: degSeries, stepBand: degBand, width: 4.8 },
  { domain: [870, 913.7], ticks: darkTicks, fmt: 'd', label: ['', 'value [e]'], series: darkSeries, width: 3.9 },
  { domain: [-0.0485, 0.0244], ticks: detTicks, fmt: '.2f', label: ['T', '/K − 140'], series: detSeries, bands: detBands, note: 'SWIR detector', width: 5.4 },
  { domain: [-0.1144, 0.1012], ticks: gratTicks, fmt: '.1f', label: ['T', '/K − 202'], series: gratSeries, bands: gratBands, note: 'SWIR grating', width: 5.6 },
  { domain: [0.0089, 0.302], ticks: obmTicks, fmt: '.1f', label: ['T', '/K − 208'], series: obmSeries, bands: obmBands, note: 'SWIR OBM', width: 4.2 }
]

const svg = d3.select('#chart')
  .attr('width', width)
  .attr('height', height)

svg.append('rect')
  .attr('width', width)
  .attr('height', height)
  .attr('fill', '#fff')

const x = d3.scaleLinear()
  .domain(orbitDomain)
  .range([plotLeft, plotRight])

panels.forEach((p, i) => {
  const top = firstTop + i * panelStep
  const bottom = top + panelHeight
  const y = d3.scaleLinear()
    .domain(p.domain)
    .range([bottom, top])

  const clipId = 'clip-' + i
  svg.append('clipPath')
    .attr('id', clipId)
    .append('rect')
    .attr('x', plotLeft)
    .attr('y', top)
    .attr('width', plotRight - plotLeft)
    .attr('height', panelHeight)

  const plot = svg.append('g').attr('clip-path', `url(#${clipId})`)

  // Uncertainty bands
  if (p.stepBand) {
    plot.append('path')
      .datum(p.stepBand)
      .attr('fill', bandColor)
      .attr('opacity', 0.92)
      .attr('d', d3.area()
        .curve(d3.curveStepAfter)
        .x(d => x(d[0]))
        .y0(d => y(d[1]))
        .y1(d => y(d[2])))
  }
  if (p.bands) {
    const order = [3, 2, 1, 4, 0]
    const sorted = p.bands.slice().sort((a, b) => order.indexOf(a[4]) - order.indexOf(b[4]))
    plot.selectAll('.band')
      .data(sorted)
      .enter()
      .append('rect')
      .attr('class', 'band')
      .attr('x', d => x(d[0]))
      .attr('width', d => x(d[1]) - x(d[0]))
      .attr('y', d => y(d[3]))
      .attr('height', d => y(d[2]) - y(d[3]))
      .attr('fill', bandColor)
      .attr('opacity', d => levelOpacity[d[4]])
  }

  // Grid
  plot.selectAll('.vgrid')
    .data(xTicks)
    .enter()
    .append('line')
    .attr('x1', d => x(d)).attr('x2', d => x(d))
    .attr('y1', top).attr('y2', bottom)
    .attr('stroke', '#b0b0b0')
    .attr('stroke-width', 2.08)
  plot.selectAll('.hgrid')
    .data(p.ticks)
    .enter()
    .append('line')
    .attr('x1', plotLeft).attr('x2', plotRight)
    .attr('y1', d => y(d)).attr('y2', d => y(d))
    .attr('stroke', '#b0b0b0')
    .attr('stroke-width', 2.08)

  // Series line
  plot.append('path')
    .datum(p.series)
    .attr('fill', 'none')
    .attr('stroke', lineColor)
    .attr('stroke-width', p.width)
    .attr('stroke-linejoin', 'round')
    .attr('d', d3.line()
      .defined(d => d[1] !== null)
      .x(d => x(d[0]))
      .y(d => y(d[1])))

  // x axis (major + minor)
  const xAxis = svg.append('g')
    .attr('transform', `translate(0, ${bottom})`)
    .call(d3.axisBottom(x)
      .tickValues(xTicks)
      .tickSize(9.1)
      .tickPadding(9.1)
      .tickFormat(i === panels.length - 1 ? d3.format('d') : ''))
  xAxis.select('.domain').remove()
  xAxis.selectAll('line').attr('stroke-width', 2.08)
  xAxis.selectAll('text')
    .attr('font-size', fontSize)
    .attr('font-family', 'DejaVu Sans')
    .attr('dy', '0.76em')

  const xMinor = svg.append('g')
    .attr('transform', `translate(0, ${bottom})`)
    .call(d3.axisBottom(x)
      .tickValues(xMinorTicks.filter(t => !xTicks.includes(t)))
      .tickSize(5.2)
      .tickFormat(''))
  xMinor.select('.domain').remove()
  xMinor.selectAll('line').attr('stroke-width', 1.56)

  // y axis
  const yAxis = svg.append('g')
    .attr('transform', `translate(${plotLeft}, 0)`)
    .call(d3.axisLeft(y)
      .tickValues(p.ticks)
      .tickSize(9.1)
      .tickPadding(9.1)
      .tickFormat(d3.format(p.fmt)))
  yAxis.select('.domain').remove()
  yAxis.selectAll('line').attr('stroke-width', 2.08)
  yAxis.selectAll('text')
    .attr('font-size', fontSize)
    .attr('font-family', 'DejaVu Sans')

  let maxW = 0
  yAxis.selectAll('text').each(function () {
    maxW = Math.max(maxW, this.getComputedTextLength())
  })
  const labelX = plotLeft - 9.1 - 9.1 - maxW - 10.4 - 6.1
  const ylabel = svg.append('text')
    .attr('transform', `translate(${labelX}, ${(top + bottom) / 2}) rotate(-90)`)
    .attr('text-anchor', 'middle')
    .attr('font-size', fontSize)
  if (p.label[0]) {
    ylabel.append('tspan').attr('font-style', 'italic').text(p.label[0])
  }
  ylabel.append('tspan').text(p.label[1])

  // Panel note
  if (p.note) {
    svg.append('text')
      .attr('x', 252)
      .attr('y', top + 44.5)
      .attr('font-size', fontSize)
      .text(p.note)
  }

  // Frame
  svg.append('rect')
    .attr('x', plotLeft)
    .attr('y', top)
    .attr('width', plotRight - plotLeft)
    .attr('height', panelHeight)
    .attr('fill', 'none')
    .attr('stroke', '#000')
    .attr('stroke-width', 2.08)
})

// x label
svg.append('text')
  .attr('x', (plotLeft + plotRight) / 2)
  .attr('y', 1614)
  .attr('text-anchor', 'middle')
  .attr('font-size', fontSize)
  .text('orbit')

// Copyright mark
svg.append('text')
  .attr('transform', 'translate(1637, 1532) rotate(-90)')
  .attr('font-size', 15.5)
  .attr('fill', '#222')
  .text('© SRON')
</script>
</body>
</html>
